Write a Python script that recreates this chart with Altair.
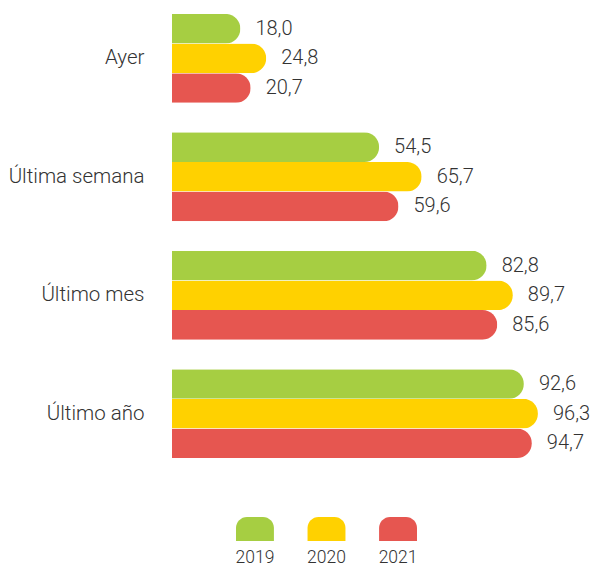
import altair as alt
import pandas as pd

categories = ["Ayer", "Última semana", "Último mes", "Último año"]
years = ["2019", "2020", "2021"]
values_2019 = [18.0, 54.5, 82.8, 92.6]
values_2020 = [24.8, 65.7, 89.7, 96.3]
values_2021 = [20.7, 59.6, 85.6, 94.7]
colors = ["#a6ce42", "#ffd100", "#e65650"]

rows = []
for yr, vals in zip(years, [values_2019, values_2020, values_2021]):
    for c, v in zip(categories, vals):
        rows.append({"cat": c, "year": yr, "v": v})
df = pd.DataFrame(rows)
leg_df = pd.DataFrame({"year": years})

FONT = "Roboto"

y_enc = alt.Y("cat:N", sort=categories, title=None,
              scale=alt.Scale(paddingInner=0.25, paddingOuter=0.05),
              axis=alt.Axis(domain=False, ticks=False, labelPadding=28,
                            labelFontSize=20.5, labelFont=FONT, labelFontWeight=300,
                            labelColor="#333333", labelLimit=300))
x_enc = alt.X("v:Q", scale=alt.Scale(domain=[0, 100]), axis=None)
color_enc = alt.Color("year:N", scale=alt.Scale(domain=years, range=colors), legend=None)

base = alt.Chart(df).encode(
    y=y_enc, x=x_enc,
    yOffset=alt.YOffset("year:N", sort=years),
)

bars = base.mark_bar(cornerRadiusEnd=15).encode(color=color_enc)
labels = base.transform_calculate(
    lab="replace(format(datum.v, '.1f'), '.', ',')"
).mark_text(align="left", baseline="middle", dx=15, fontSize=20,
            font=FONT, fontWeight=300, color="#333333").encode(text="lab:N")

main = alt.layer(bars, labels).properties(width=380, height=456)

leg_x = alt.X("year:N", sort=years, axis=None,
              scale=alt.Scale(range=[64, 245], paddingInner=0.47, paddingOuter=0))
leg_base = alt.Chart(leg_df).encode(x=leg_x)
leg_sym = leg_base.mark_bar(cornerRadiusTopLeft=11, cornerRadiusTopRight=11).encode(
    y=alt.value(0), y2=alt.value(24),
    color=alt.Color("year:N", scale=alt.Scale(domain=years, range=colors), legend=None),
)
leg_txt = leg_base.mark_text(baseline="middle", fontSize=17.5, font=FONT,
                             fontWeight=300, color="#333333").encode(
    y=alt.value(41), text="year:N")
legend = alt.layer(leg_sym, leg_txt).properties(width=250, height=48)

chart = alt.vconcat(main, legend, spacing=53).properties(
    padding=0, background="white"
).configure_view(stroke=None)

chart.save("out.html", embed_options={"renderer": "svg", "actions": False})
